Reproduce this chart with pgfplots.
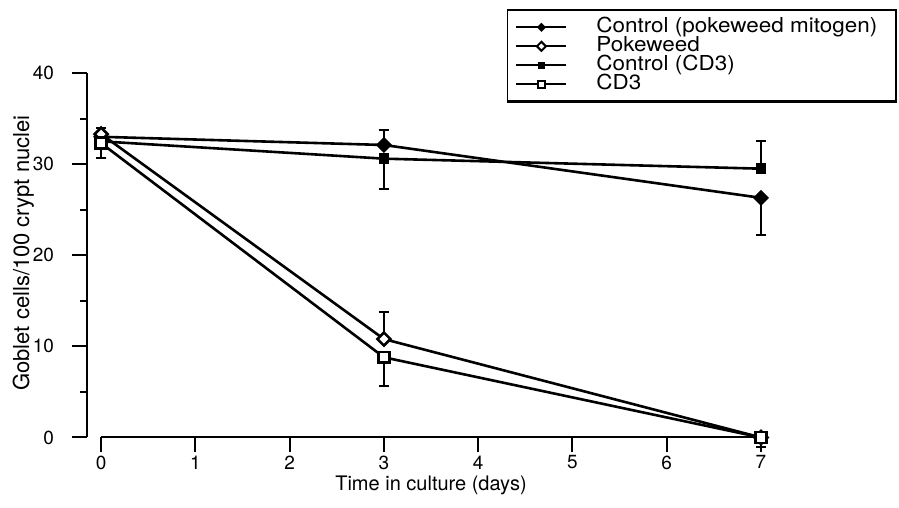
\documentclass[border=0pt]{standalone}
\usepackage{fontspec}
\setmainfont{TeX Gyre Heros}
\newfontfamily\legfont[FakeStretch=1.09]{TeX Gyre Heros}
\usepackage{pgfplots}
\pgfplotsset{compat=1.18}
\begin{document}
\begin{tikzpicture}
\begin{axis}[
  at={(0,0)}, anchor=south west,
  scale only axis, width=337pt, height=182.25pt,
  xmin=-0.15, xmax=7, ymin=0, ymax=40,
  clip=false,
  axis x line*=bottom, axis y line*=left,
  axis line style={-, line width=1pt},
  x axis line style={draw=none},
  xtick={0,...,7}, ytick={0,10,...,40}, minor ytick={5,15,25,35},
  tick align=outside, major tick length=7.5pt, minor tick length=3.5pt,
  tick style={line width=1pt, black},
  /pgf/number format/assume math mode=true,
  ticklabel style={font=\fontsize{9.5}{10.5}\selectfont},
  xticklabel style={yshift=2pt},
  yticklabel style={xshift=-5.5pt},
  legend cell align=left,
  legend style={name=leg, at={(1.2018,1.1756)}, anchor=north east, draw=black, line width=0.8pt,
    font=\legfont\fontsize{10.3}{10.3}\selectfont,
    nodes={inner sep=0pt, text height=7.5pt, text depth=2pt},
    row sep=0pt, inner xsep=4pt, inner ysep=4pt, column sep=14.5pt},
  legend image code/.code={\draw[mark repeat=2,mark phase=2] plot coordinates {(0pt,0pt)(12.5pt,0pt)(25pt,0pt)};},
]
% error bars (one-sided)
\addplot[draw=none, mark=none, forget plot,
  error bars/.cd, y dir=plus, y explicit,
  error bar style={draw=black, solid, line width=1.1pt},
  error mark options={draw=black, rotate=90, mark size=2.6pt, line width=1pt}]
  coordinates {(3,32.1) +- (0,1.6) (0,33.3) +- (0,0.7) (3,10.8) +- (0,3.0) (7,29.5) +- (0,3.0)};
\addplot[draw=none, mark=none, forget plot,
  error bars/.cd, y dir=minus, y explicit,
  error bar style={draw=black, solid, line width=1.1pt},
  error mark options={draw=black, rotate=90, mark size=2.6pt, line width=1pt}]
  coordinates {(7,26.3) +- (0,4.1) (3,30.6) +- (0,3.3) (0,32.3) +- (0,1.6) (3,8.8) +- (0,3.2) (7,0) +- (0,1.0)};

\draw[line width=1pt] (axis cs:0,0) -- (axis cs:7,0);

\addplot[black, line width=1.3pt, mark=square*, mark size=2.2pt,
  mark options={rotate=45, solid, fill=black},
  legend image post style={line width=1pt, mark size=1.1pt}]
  coordinates {(0,33.0)(3,32.1)(7,26.3)};
\addlegendentry{Control (pokeweed mitogen)\hspace*{5.5pt}}
\addplot[black, line width=1.3pt, mark=square*, mark size=2.3pt,
  mark options={rotate=45, solid, fill=white},
  legend image post style={line width=1pt, mark size=1.6pt}]
  coordinates {(0,33.3)(3,10.8)(7,0)};
\addlegendentry{Pokeweed}
\addplot[black, line width=1.3pt, mark=square*, mark size=2pt,
  mark options={solid, fill=black},
  legend image post style={line width=1pt, mark size=1.1pt}]
  coordinates {(0,32.5)(3,30.6)(7,29.5)};
\addlegendentry{Control (CD3)}
\addplot[black, line width=1.3pt, mark=square*, mark size=2.7pt,
  mark options={solid, fill=white},
  legend image post style={line width=1pt, mark size=1.7pt}]
  coordinates {(0,32.3)(3,8.8)(7,0)};
\addlegendentry{CD3}
\end{axis}
\draw[line width=1.6pt] ([yshift=0.4pt]leg.south west) -- ([yshift=0.4pt]leg.south east);
\node[anchor=base, font=\fontsize{10}{11}\selectfont] at (172pt,-26.5pt) {Time in culture (days)};
\node[rotate=90, anchor=base, font=\fontsize{11}{12}\selectfont] at (-29pt,92.25pt) {Goblet cells/100 crypt nuclei};
\pgfresetboundingbox
\path[use as bounding box] (-43.5pt,-35.25pt) rectangle (406pt,218.75pt);
\end{tikzpicture}
\end{document}
